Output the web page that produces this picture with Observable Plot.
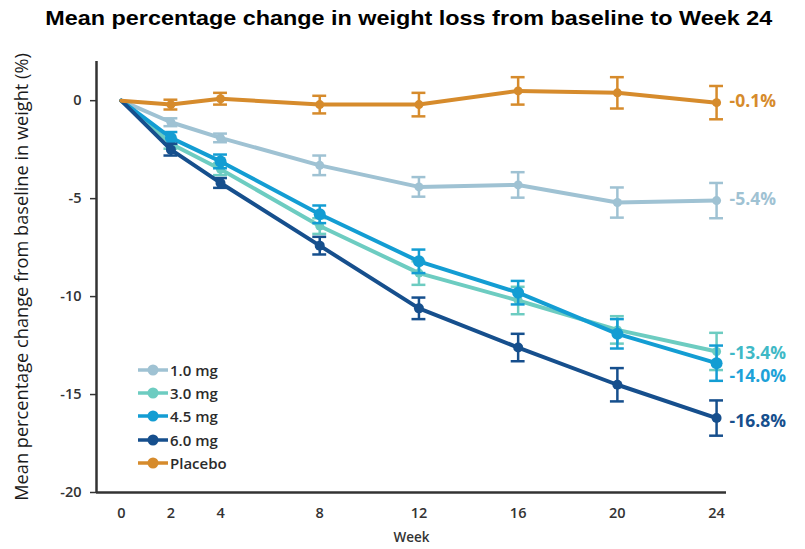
<!DOCTYPE html>
<html>
<head>
<meta charset="utf-8">
<script src="https://cdn.jsdelivr.net/npm/d3@7"></script>
<script src="https://cdn.jsdelivr.net/npm/@observablehq/plot@0.6"></script>
<style>
  html, body { margin: 0; padding: 0; background: #fff; }
  #wrap { position: relative; width: 805px; height: 549px; overflow: hidden; }
  #title { height: 36px; line-height: 36px; text-align: center; white-space: nowrap; padding-left: 12px; }
  #title span { display: inline-block; font-family: "Liberation Sans", Arial, sans-serif; font-weight: bold; font-size: 20.5px; color: #000; transform: scaleX(1.14); transform-origin: center; }
  #legend { position: absolute; left: 137px; top: 358px; font-family: "Open Sans", sans-serif; font-weight: 600; font-size: 15px; color: #2b2b2b; }
  #legend .row { height: 23.3px; display: flex; align-items: center; }
  #legend svg { margin-right: 1px; }
  g[aria-label="y-axis label"] text { font-family: "Open Sans", sans-serif; font-size: 18.2px; font-weight: normal; fill: #1a1a1a; }
  g[aria-label="x-axis label"] text { font-size: 13.5px; }
</style>
</head>
<body>
<div id="wrap">
  <div id="title"><span>Mean percentage change in weight loss from baseline to Week 24</span></div>
  <div id="chart"></div>
  <div id="legend"></div>
</div>
<script>
const weeks = [0, 2, 4, 8, 12, 16, 20, 24];
const seriesNames = ["1.0 mg", "3.0 mg", "4.5 mg", "6.0 mg", "Placebo"];
const seriesColors = ["#9fc2d3", "#6dccc1", "#139dd3", "#164f8d", "#d68b2c"];
const labelColors = ["#9fc2d3", "#3fb9c6", "#1da2d8", "#164f8d", "#d68b2c"];
const endLabels = ["-5.4%", "-13.4%", "-14.0%", "-16.8%", "-0.1%"];

const mg1 = [0, -1.1, -1.9, -3.3, -4.4, -4.3, -5.2, -5.1];
const mg1Err = [0, 0.2, 0.22, 0.5, 0.5, 0.65, 0.77, 0.9];
const mg3 = [0, -2.2, -3.5, -6.4, -8.8, -10.2, -11.7, -12.8];
const mg3Err = [0, 0.25, 0.3, 0.4, 0.6, 0.7, 0.7, 0.95];
const mg45 = [0, -1.9, -3.1, -5.8, -8.2, -9.8, -11.9, -13.4];
const mg45Err = [0, 0.3, 0.35, 0.45, 0.6, 0.6, 0.75, 0.9];
const mg6 = [0, -2.5, -4.2, -7.4, -10.6, -12.6, -14.5, -16.2];
const mg6Err = [0, 0.3, 0.25, 0.45, 0.55, 0.7, 0.85, 0.9];
const placebo = [0, -0.2, 0.1, -0.2, -0.2, 0.5, 0.4, -0.1];
const placeboErr = [0, 0.25, 0.3, 0.45, 0.6, 0.7, 0.8, 0.85];

const yTicks = [-20, -15, -10, -5, 0];

const allValues = [mg1, mg3, mg45, mg6, placebo];
const allErrs = [mg1Err, mg3Err, mg45Err, mg6Err, placeboErr];
const dotRadius = [4.5, 4.5, 6, 5, 4.5];
const labelDy = [-1, 2, 13, 3, -1];
const drawOrder = [0, 1, 2, 3, 4];
const capHalf = 0.28;

const marks = [];
for (const si of drawOrder) {
  const rows = weeks.map((w, i) => ({week: w, value: allValues[si][i], err: allErrs[si][i]}));
  const errRows = rows.filter(d => d.week > 0);
  const color = seriesColors[si];
  marks.push(
    Plot.line(rows, {x: "week", y: "value", stroke: color, strokeWidth: 4, strokeLinejoin: "round"}),
    Plot.ruleX(errRows, {x: "week", y1: d => d.value - d.err, y2: d => d.value + d.err, stroke: color, strokeWidth: 2.5}),
    Plot.ruleY(errRows, {y: d => d.value + d.err, x1: d => d.week - capHalf, x2: d => d.week + capHalf, stroke: color, strokeWidth: 2.5}),
    Plot.ruleY(errRows, {y: d => d.value - d.err, x1: d => d.week - capHalf, x2: d => d.week + capHalf, stroke: color, strokeWidth: 2.5}),
    Plot.dot(errRows, {x: "week", y: "value", fill: color, r: dotRadius[si]}),
    Plot.text([rows[rows.length - 1]], {x: "week", y: "value", text: () => endLabels[si], dx: 13, dy: labelDy[si], textAnchor: "start", fill: labelColors[si], fontSize: 17.5, fontWeight: 700, letterSpacing: "1px"})
  );
}

const chart = Plot.plot({
  width: 805,
  height: 513,
  marginTop: 25,
  marginBottom: 57,
  marginLeft: 96,
  marginRight: 79,
  style: {fontFamily: "Open Sans, sans-serif", fontSize: "14.5px", fontWeight: 600, color: "#333", background: "#fff", overflow: "visible"},
  x: {domain: [-1, 24.4]},
  y: {domain: [-20, 2]},
  marks: [
    Plot.axisY({ticks: yTicks, tickSize: 6, tickPadding: 9, tickFormat: d => String(d), label: "Mean percentage change from baseline in weight (%)", labelAnchor: "center", labelArrow: "none", labelOffset: 81, stroke: "#333", strokeWidth: 1.5}),
    Plot.axisX({ticks: weeks, tickSize: 0, tickPadding: 15, tickFormat: d => String(d), label: "Week", labelAnchor: "center", labelArrow: "none", labelOffset: 49}),
    Plot.ruleX([-1], {stroke: "#333", strokeWidth: 2.5}),
    Plot.ruleY([-20], {stroke: "#333", strokeWidth: 2.5}),
    ...marks
  ]
});
document.getElementById("chart").appendChild(chart);

// legend
const legend = document.getElementById("legend");
for (let i = 0; i < seriesNames.length; i++) {
  const row = document.createElement("div");
  row.className = "row";
  row.innerHTML = `<svg width="32" height="14"><line x1="1" x2="31" y1="7" y2="7" stroke="${seriesColors[i]}" stroke-width="3.5"/><circle cx="16" cy="7" r="5.5" fill="${seriesColors[i]}"/></svg><span>${seriesNames[i]}</span>`;
  legend.appendChild(row);
}
</script>
</body>
</html>
